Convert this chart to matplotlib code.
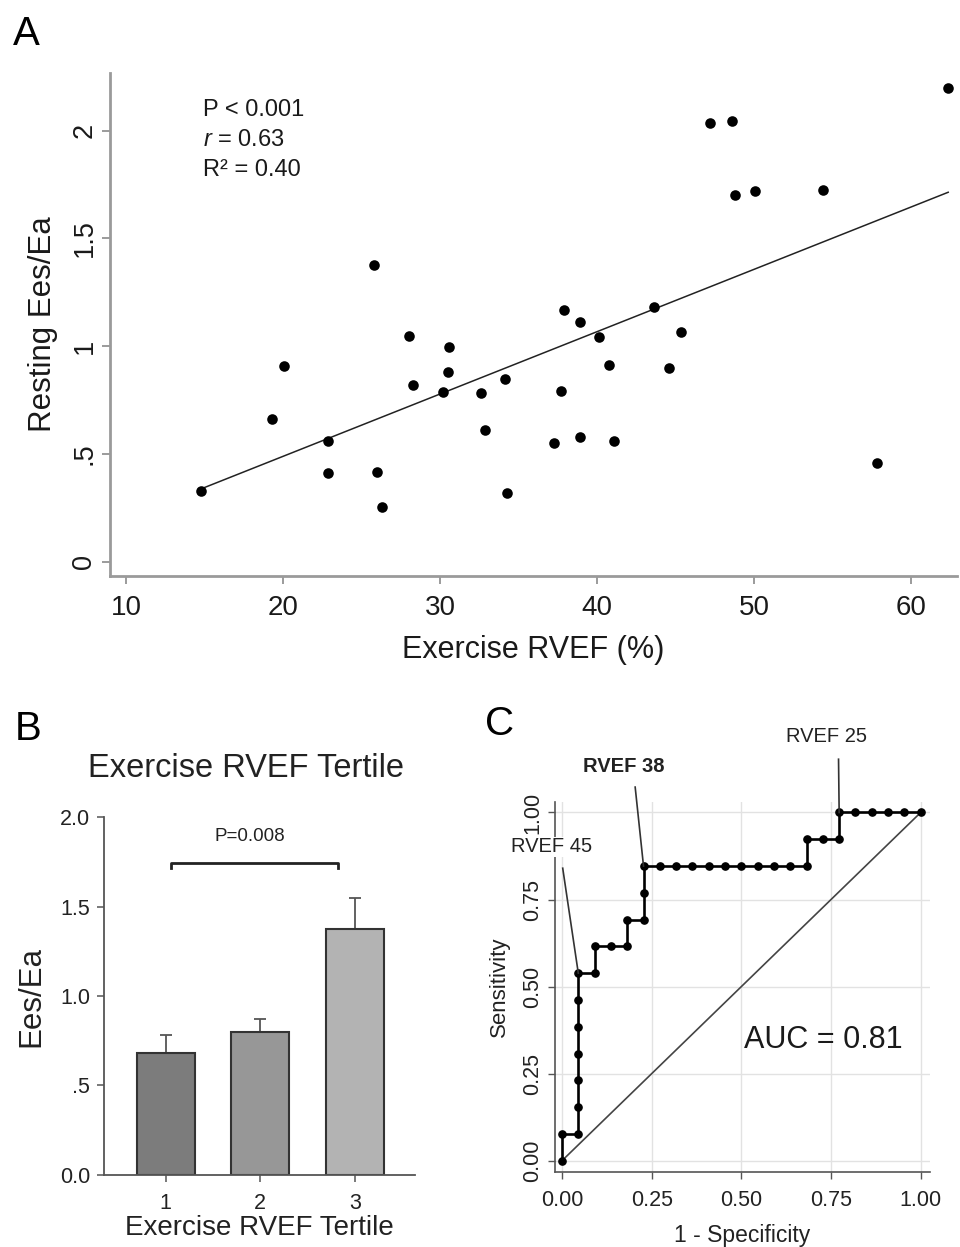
import numpy as np
import matplotlib
matplotlib.use("Agg")
import matplotlib.pyplot as plt

plt.rcParams['font.family'] = ['Liberation Sans', 'DejaVu Sans']
plt.rcParams['mathtext.fontset'] = 'custom'
plt.rcParams['mathtext.rm'] = 'Liberation Sans'
plt.rcParams['mathtext.it'] = 'Liberation Sans:italic'

# ---------------- Data ----------------
# Panel A: Exercise RVEF (%) vs Resting Ees/Ea
rvef = [14.77, 19.27, 20.06, 22.87, 22.85, 25.78, 26.0, 26.32, 28.02, 28.3,
        30.57, 30.51, 30.21, 32.61, 32.89, 34.17, 34.25, 37.91, 38.91, 37.72,
        37.27, 38.93, 41.1, 40.14, 40.74, 43.61, 45.36, 44.57, 47.22, 48.63,
        48.76, 50.04, 54.42, 57.82, 62.37]
ees_ea = [0.326, 0.661, 0.909, 0.561, 0.410, 1.375, 0.414, 0.252, 1.045, 0.818,
          0.995, 0.882, 0.786, 0.783, 0.610, 0.847, 0.318, 1.166, 1.110, 0.794,
          0.549, 0.578, 0.560, 1.044, 0.912, 1.183, 1.067, 0.897, 2.037, 2.045,
          1.702, 1.719, 1.724, 0.458, 2.198]
a_xticks = [10, 20, 30, 40, 50, 60]
a_yticks = [0, 0.5, 1, 1.5, 2]
a_yticklabels = ['0', '.5', '1', '1.5', '2']
stats_lines = ['P < 0.001', '$r$ = 0.63', 'R² = 0.40']

# Panel B: tertile means
tertiles = [1, 2, 3]
tert_mean = [0.68, 0.80, 1.375]
tert_err = [0.10, 0.073, 0.176]
tert_colors = ['#7c7c7c', '#979797', '#b3b3b3']
b_yticks = [0.0, 0.5, 1.0, 1.5, 2.0]
b_yticklabels = ['0.0', '.5', '1.0', '1.5', '2.0']
p_text = 'P=0.008'

# Panel C: ROC curve (false positives out of 22, true positives out of 13)
n_neg, n_pos = 22, 13
roc_fp = [0, 0, 1, 1, 1, 1, 1, 1, 1, 2, 2, 3, 4, 4, 5, 5, 5, 6, 7, 8, 9, 10,
          11, 12, 13, 14, 15, 15, 16, 17, 17, 18, 19, 20, 21, 22]
roc_tp = [0, 1, 1, 2, 3, 4, 5, 6, 7, 7, 8, 8, 8, 9, 9, 10, 11, 11, 11, 11, 11,
          11, 11, 11, 11, 11, 11, 12, 12, 12, 13, 13, 13, 13, 13, 13]
c_ticks = [0.0, 0.25, 0.5, 0.75, 1.0]
c_ticklabels = ['0.00', '0.25', '0.50', '0.75', '1.00']
cut_labels = ['RVEF 45', 'RVEF 38', 'RVEF 25']
cut_idx = [8, 16, 30]
auc_text = 'AUC = 0.81'

# ---------------- Figure ----------------
W, H = 960, 1247
fig = plt.figure(figsize=(W / 100, H / 100), dpi=100)


def ax_rect(l, t, r, b):
    return [l / W, 1 - b / H, (r - l) / W, (b - t) / H]


# ---- Panel A ----
axA = fig.add_axes(ax_rect(110, 73.3, 957, 575.5))
axA.scatter(rvef, ees_ea, s=58, color='black', zorder=3, linewidths=0)
coef = np.polyfit(rvef, ees_ea, 1)
xl = np.array([min(rvef), max(rvef)])
axA.plot(xl, np.polyval(coef, xl), color='#222222', lw=1.1, zorder=2)
axA.set_xlim(8.98, 62.93)
axA.set_ylim(-0.064, 2.266)
axA.set_xticks(a_xticks)
axA.set_xticklabels([str(v) for v in a_xticks], fontsize=20)
axA.set_yticks(a_yticks)
axA.set_yticklabels(a_yticklabels, fontsize=19.5, rotation=90, va='center')
for s in ['top', 'right']:
    axA.spines[s].set_visible(False)
for s in ['left', 'bottom']:
    axA.spines[s].set_color('#9a9a9a')
    axA.spines[s].set_linewidth(2)
axA.tick_params(axis='both', colors='#8a8a8a', labelcolor='#1a1a1a',
                length=6, width=1.2, direction='out')
axA.tick_params(axis='x', pad=8)
axA.tick_params(axis='y', pad=3)
axA.set_xlabel('Exercise RVEF (%)', fontsize=22, color='#1a1a1a', labelpad=10)
axA.set_ylabel('Resting Ees/Ea', fontsize=22.5, color='#1a1a1a', labelpad=10)
for i, t in enumerate(stats_lines):
    axA.text(14.9, 2.096 - i * 0.14, t, fontsize=17, ha='left', va='center',
             color='#1a1a1a')

# ---- Panel B ----
axB = fig.add_axes(ax_rect(104, 817.4, 415, 1174.8))
axB.bar(tertiles, tert_mean, width=0.61, color=tert_colors, edgecolor='#333333',
        linewidth=1.5, zorder=2)
axB.errorbar(tertiles, tert_mean, yerr=[np.zeros(3), tert_err], fmt='none',
             ecolor='#555555', elinewidth=1.3, capsize=4, capthick=1.3, zorder=1)
axB.set_xlim(0.348, 3.634)
axB.set_ylim(0, 2.0)
axB.set_xticks(tertiles)
axB.set_xticklabels([str(t) for t in tertiles], fontsize=15.5)
axB.set_yticks(b_yticks)
axB.set_yticklabels(b_yticklabels, fontsize=15.5)
for s in ['top', 'right']:
    axB.spines[s].set_visible(False)
for s in ['left', 'bottom']:
    axB.spines[s].set_color('#555555')
    axB.spines[s].set_linewidth(1.3)
axB.tick_params(axis='both', colors='#555555', labelcolor='#222222',
                length=5, width=1.1, direction='out')
axB.tick_params(axis='x', pad=8)
axB.tick_params(axis='y', pad=5)
axB.set_xlabel('Exercise RVEF Tertile', fontsize=20, color='#222222', labelpad=1)
axB.set_ylabel('Ees/Ea', fontsize=22.5, color='#222222', labelpad=10)
axB.plot([1.06, 1.06, 2.82, 2.82], [1.717, 1.747, 1.747, 1.717], color='#222222',
         lw=2, clip_on=False)
axB.text(1.89, 1.895, p_text, fontsize=13.5, ha='center', va='center',
         color='#222222')
fig.text(246 / W, 1 - 768.6 / H, 'Exercise RVEF Tertile', fontsize=23.5,
         ha='center', va='center', color='#222222')

# ---- Panel C ----
axC = fig.add_axes(ax_rect(555, 801.7, 930, 1171.5))
fpr = np.array(roc_fp) / n_neg
tpr = np.array(roc_tp) / n_pos
axC.set_xlim(-0.0195, 1.026)
axC.set_ylim(-0.031, 1.031)
axC.set_xticks(c_ticks)
axC.set_yticks(c_ticks)
axC.grid(True, color='#e2e2e2', lw=1.0, zorder=0)
axC.plot([0, 1], [0, 1], color='#444444', lw=1.2, zorder=2)
axC.plot(fpr, tpr, color='black', lw=1.9, marker='o', markersize=5.2, zorder=3)
axC.set_xticklabels(c_ticklabels, fontsize=15.5)
axC.set_yticklabels(c_ticklabels, fontsize=15.5, rotation=90, va='center')
for s in ['top', 'right']:
    axC.spines[s].set_visible(False)
for s in ['left', 'bottom']:
    axC.spines[s].set_color('#555555')
    axC.spines[s].set_linewidth(1.2)
axC.tick_params(axis='both', colors='#555555', labelcolor='#222222',
                length=5, width=1.0, direction='out')
axC.tick_params(axis='x', pad=8)
axC.set_xlabel('1 - Specificity', fontsize=16.5, color='#222222', labelpad=10)
axC.set_ylabel('Sensitivity', fontsize=16, color='#222222', labelpad=9)
axC.text(0.729, 0.346, auc_text, fontsize=22, ha='center', va='center',
         color='#1a1a1a')

label_pos = [(-0.029, 0.902), (0.171, 1.133), (0.738, 1.219)]
line_start = [(0.002, 0.840), (0.204, 1.073), (0.771, 1.153)]
weights = ['normal', 'bold', 'normal']
for lab, idx, lp, ls, w in zip(cut_labels, cut_idx, label_pos, line_start, weights):
    axC.text(lp[0], lp[1], lab, fontsize=14.5, fontweight=w, ha='center',
             va='center', color='#222222', clip_on=False, zorder=5,
             bbox=dict(facecolor='white', edgecolor='none', pad=0.5))
    axC.plot([ls[0], fpr[idx]], [ls[1], tpr[idx]], color='#333333', lw=1.2,
             clip_on=False, zorder=4)

# Panel letters
fig.text(13 / W, 1 - 45 / H, 'A', fontsize=29, ha='left', va='baseline')
fig.text(15 / W, 1 - 740 / H, 'B', fontsize=29, ha='left', va='baseline')
fig.text(485 / W, 1 - 735 / H, 'C', fontsize=29, ha='left', va='baseline')

fig.savefig('out.png', dpi=100)
